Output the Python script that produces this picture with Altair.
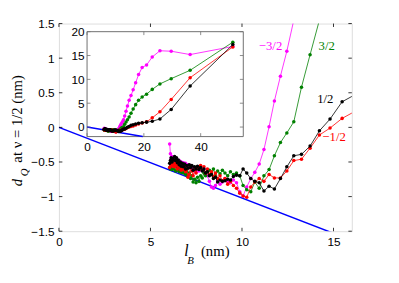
import altair as alt
import pandas as pd

# ---------------- data ----------------
# magnetic length l_B (nm), shared by all four series
lB = [51.32, 36.29, 29.63, 25.66, 22.95, 20.95, 19.40, 18.14, 17.11, 16.23,
      15.47, 14.81, 14.23, 13.72, 13.25, 12.83, 12.45, 12.10, 11.77, 11.48,
      11.20, 10.94, 10.70, 10.48, 10.26, 10.06, 9.88, 9.70, 9.53, 9.37,
      9.22, 9.07, 8.93, 8.80, 8.67, 8.55, 8.44, 8.33, 8.22, 8.11,
      8.01, 7.92, 7.83, 7.74, 7.65, 7.57, 7.49, 7.41, 7.33, 7.26,
      7.19, 7.12, 7.05, 6.98, 6.92, 6.86, 6.80, 6.74, 6.68, 6.63,
      6.57, 6.52, 6.47, 6.42, 6.37, 6.32, 6.27, 6.22, 6.18, 6.13,
      6.09, 6.05]

d_half = [17.3, 8.6, 3.7, 1.7, 1.2, 1.03, 0.90, 0.78, 0.62, 0.48,
          0.37, 0.12, -0.05, -0.27, -0.39, -0.41, -0.57, -0.74, -0.89, -0.85,
          -0.92, -0.80, -0.78, -0.74, -0.66, -0.60, -0.70, -0.69, -0.71, -0.76,
          -0.75, -0.77, -0.78, -0.76, -0.79, -0.72, -0.74, -0.68, -0.70, -0.64,
          -0.66, -0.60, -0.63, -0.58, -0.61, -0.56, -0.60, -0.57, -0.62, -0.55,
          -0.58, -0.54, -0.59, -0.55, -0.60, -0.53, -0.57, -0.52, -0.56, -0.50,
          -0.54, -0.47, -0.51, -0.44, -0.48, -0.42, -0.47, -0.45, -0.50, -0.44,
          -0.48, -0.52]

d_mhalf = [16.8, 10.35, 5.8, 3.2, 1.93, 1.1, 0.85, 0.62, 0.45, 0.24,
           0.13, -0.01, -0.11, -0.30, -0.46, -0.48, -0.63, -0.73, -0.73, -0.68,
           -0.78, -0.74, -0.79, -0.86, -1.01, -0.99, -0.95, -0.88, -0.84, -0.78,
           -0.82, -0.74, -0.77, -0.70, -0.74, -0.66, -0.71, -0.64, -0.68, -0.60,
           -0.66, -0.57, -0.62, -0.55, -0.60, -0.58, -0.66, -0.61, -0.70, -0.63,
           -0.56, -0.68, -0.72, -0.60, -0.64, -0.57, -0.61, -0.55, -0.62, -0.58,
           -0.52, -0.56, -0.60, -0.54, -0.51, -0.57, -0.53, -0.56, -0.50, -0.55,
           -0.52, -0.58]

d_3half = [17.8, 11.9, 10.15, 9.05, 7.9, 6.9, 6.3, 5.6, 4.7, 3.8,
           2.9, 2.1, 1.55, 1.05, 0.58, 0.08, -0.08, -0.22, -0.41, -0.61,
           -0.70, -0.88, -0.79, -0.93, -0.90, -0.84, -0.70, -0.66, -0.68, -0.64,
           -0.70, -0.66, -0.62, -0.67, -0.63, -0.70, -0.60, -0.66, -0.62, -0.64,
           -0.70, -0.66, -0.73, -0.70, -0.78, -0.72, -0.80, -0.75, -0.79, -0.70,
           -0.74, -0.66, -0.70, -0.63, -0.68, -0.62, -0.66, -0.60, -0.65, -0.59,
           -0.64, -0.58, -0.62, -0.57, -0.63, -0.56, -0.60, -0.55, -0.61, -0.56,
           -0.60, -0.58]

d_m3half = [16.9, 15.2, 15.9, 16.0, 14.7, 13.0, 12.5, 11.0, 9.3, 7.8,
            6.6, 5.6, 4.4, 3.3, 2.3, 1.55, 1.10, 0.74, 0.38, 0.01,
            -0.32, -0.53, -0.65, -0.74, -0.86, -0.99, -0.93, -0.80, -0.76, -0.80,
            -0.78, -0.74, -0.79, -0.82, -0.77, -0.84, -0.88, -0.86, -0.78, -0.70,
            -0.66, -0.60, -0.62, -0.58, -0.63, -0.60, -0.65, -0.62, -0.58, -0.60,
            -0.55, -0.58, -0.54, -0.57, -0.52, -0.56, -0.51, -0.55, -0.50, -0.53,
            -0.48, -0.52, -0.47, -0.50, -0.46, -0.49, -0.44, -0.47, -0.42, -0.45,
            -0.38, -0.24]

series_names = ["\u22123/2", "3/2", "\u22121/2", "1/2"]
series_colors = ["#ff00ff", "#008000", "#ff0000", "#000000"]
series_values = [d_m3half, d_3half, d_mhalf, d_half]

# reference line
blue_x = [0.0, 19.6]
blue_y = [0.0, -2.0]

main_xticks = [0, 5, 10, 15]
main_yticks = [-1.5, -1, -0.5, 0, 0.5, 1, 1.5]
inset_xticks = [0, 20, 40]
inset_yticks = [0, 5, 10, 15, 20]
main_xdomain = [0, 16]
main_ydomain = [-1.5, 1.5]
inset_xdomain = [0, 55]
inset_ydomain = [-2, 20]

label_text = ["\u22123/2", "3/2", "1/2", "\u22121/2"]
label_x = [11.56, 14.63, 14.55, 15.03]
label_y = [1.18, 1.18, 0.415, -0.137]

# ---------------- layout constants ----------------
W, H = 299, 212
IX0, IX1 = 28.7, 188.2      # inset horizontal pixel range inside plot
IY0, IY1 = 115.4, 8.3       # inset vertical pixel range (bottom, top)
TK = 3.5
SANS = "Liberation Sans"
SERIF = "Liberation Serif"

X_MAIN = alt.Scale(domain=main_xdomain, nice=False, zero=False)
Y_MAIN = alt.Scale(domain=main_ydomain, nice=False, zero=False)
X_INS = alt.Scale(domain=inset_xdomain, range=[IX0, IX1], nice=False, zero=False)
Y_INS = alt.Scale(domain=inset_ydomain, range=[IY0, IY1], nice=False, zero=False)

common = dict(ticks=False, domain=False, grid=False, title=None, labelFont=SANS,
              labelFontSize=12, labelColor="black",
              labelFlush=False, labelOverlap=False, labelBound=False)
AX_MX = alt.Axis(orient="bottom", values=main_xticks, labelPadding=6, format="d", **common)
AX_MY = alt.Axis(orient="left", values=main_yticks, labelPadding=5, format="~g", **common)
AX_IX = alt.Axis(orient="bottom", values=inset_xticks, offset=IY0 - H, labelPadding=5,
                 format="d", **common)
AX_IY = alt.Axis(orient="left", values=inset_yticks, offset=-IX0, labelPadding=3,
                 format="d", **common)

long_rows = []
for name, ys in zip(series_names, series_values):
    for x, y in zip(lB, ys):
        long_rows.append({"s": name, "l": x, "d": y})
df = pd.DataFrame(long_rows)
blue_df = pd.DataFrame({"l": blue_x, "d": blue_y})


def series_layers(xs, ys, ax_x, ax_y, clip):
    out = []
    for name, col in zip(series_names, series_colors):
        sub = df[df.s == name]
        base = alt.Chart(sub).encode(
            x=alt.X("l:Q", scale=xs, axis=ax_x),
            y=alt.Y("d:Q", scale=ys, axis=ax_y),
        )
        out.append(base.mark_line(color=col, strokeWidth=0.8, clip=clip))
        out.append(base.mark_circle(color=col, size=13, opacity=1, clip=clip))
    return out


def tick_layers(xv, yv, xs, ys, ax_x, ax_y, x0, x1, y0, y1, col):
    dx = pd.DataFrame({"v": xv})
    dy = pd.DataFrame({"v": yv})
    r = []
    r.append(alt.Chart(dx).mark_rule(color=col, strokeWidth=0.8).encode(
        x=alt.X("v:Q", scale=xs, axis=ax_x), y=alt.value(y0), y2=alt.value(y0 - TK)))
    r.append(alt.Chart(dx).mark_rule(color=col, strokeWidth=0.8).encode(
        x=alt.X("v:Q", scale=xs, axis=ax_x), y=alt.value(y1), y2=alt.value(y1 + TK)))
    r.append(alt.Chart(dy).mark_rule(color=col, strokeWidth=0.8).encode(
        y=alt.Y("v:Q", scale=ys, axis=ax_y), x=alt.value(x0), x2=alt.value(x0 + TK)))
    r.append(alt.Chart(dy).mark_rule(color=col, strokeWidth=0.8).encode(
        y=alt.Y("v:Q", scale=ys, axis=ax_y), x=alt.value(x1), x2=alt.value(x1 - TK)))
    return r


def txt(t, x, y, size, italic=False, angle=0):
    kw = dict(text=t, font=SERIF, fontSize=size, align="left", baseline="alphabetic",
              color="black")
    if italic:
        kw["fontStyle"] = "italic"
    if angle:
        kw["angle"] = angle
    return alt.Chart(pd.DataFrame({"k": [0]})).mark_text(**kw).encode(
        x=alt.value(x), y=alt.value(y))


# ---------------- main panel ----------------
main_layers = []
main_layers.append(alt.Chart(blue_df).mark_line(color="#0000ff", strokeWidth=1.5, clip=True).encode(
    x=alt.X("l:Q", scale=X_MAIN, axis=AX_MX), y=alt.Y("d:Q", scale=Y_MAIN, axis=AX_MY)))
main_layers += series_layers(X_MAIN, Y_MAIN, AX_MX, AX_MY, True)
main_layers += tick_layers(main_xticks, main_yticks, X_MAIN, Y_MAIN, AX_MX, AX_MY,
                           0, W, H, 0, "black")
lab_df = pd.DataFrame({"t": label_text, "x": label_x, "y": label_y,
                       "c": [series_names[0], series_names[1], series_names[3], series_names[2]]})
main_layers.append(alt.Chart(lab_df).mark_text(font=SERIF, fontSize=13, align="center",
                                               baseline="middle").encode(
    x=alt.X("x:Q", scale=X_MAIN, axis=AX_MX), y=alt.Y("y:Q", scale=Y_MAIN, axis=AX_MY),
    text="t:N",
    color=alt.Color("c:N", scale=alt.Scale(domain=series_names, range=series_colors), legend=None)))
# axis titles
main_layers.append(txt("l", 128, 237, 16, italic=True))
main_layers.append(txt("B", 131, 245, 11, italic=True))
main_layers.append(txt("(nm)", 145, 237, 15))
main_layers.append(txt("d", -38, 166, 15, italic=True, angle=270))
main_layers.append(txt("Q", -32, 156, 11, italic=True, angle=270))
main_layers.append(txt("at \u03bd = 1/2  (nm)", -38, 142, 15, angle=270))
main = alt.layer(*main_layers)

# ---------------- inset panel ----------------
frame_df = pd.DataFrame({"x0": [inset_xdomain[0]], "x1": [inset_xdomain[1]],
                         "y0": [inset_ydomain[0]], "y1": [inset_ydomain[1]]})
inset_layers = []
inset_layers.append(alt.Chart(frame_df).mark_rect(fill="white", stroke="#6f6f6f", strokeWidth=1).encode(
    x=alt.X("x0:Q", scale=X_INS, axis=AX_IX), x2="x1:Q",
    y=alt.Y("y0:Q", scale=Y_INS, axis=AX_IY), y2="y1:Q"))
inset_layers.append(alt.Chart(blue_df).mark_line(color="#0000ff", strokeWidth=1.5).encode(
    x=alt.X("l:Q", scale=X_INS, axis=AX_IX), y=alt.Y("d:Q", scale=Y_INS, axis=AX_IY)))
inset_layers += series_layers(X_INS, Y_INS, AX_IX, AX_IY, False)
inset_layers += tick_layers(inset_xticks, inset_yticks, X_INS, Y_INS, AX_IX, AX_IY,
                            IX0, IX1, IY0, IY1, "#6f6f6f")
inset = alt.layer(*inset_layers)

chart = alt.layer(main, inset).resolve_scale(x="independent", y="independent").properties(
    width=W, height=H,
    autosize=alt.AutoSizeParams(type="none"),
    padding={"left": 52, "top": 13, "right": 40, "bottom": 50},
).configure_view(stroke="black", strokeWidth=1).configure(background="white")

chart.save("out.html", embed_options={"renderer": "svg", "actions": False})
